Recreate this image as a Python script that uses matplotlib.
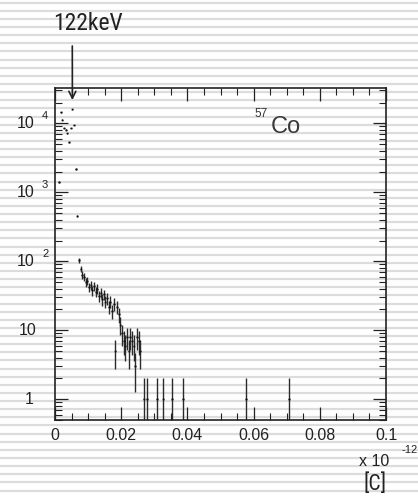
import numpy as np
import matplotlib
matplotlib.use("Agg")
import matplotlib.pyplot as plt
from matplotlib.ticker import MultipleLocator, LogLocator, NullFormatter
from matplotlib import font_manager

# ---------------- data ----------------
bin_half_width = 0.00025
# bin centres [x 10^-12 C] and counts
x_peak = [0.00125, 0.00175, 0.00225, 0.00275, 0.00325, 0.00375, 0.00425,
          0.00475, 0.00525, 0.00575, 0.00625, 0.00675, 0.00725]
n_peak = [1410, 14400, 11300, 8550, 8100, 7160, 5300,
          8550, 15950, 9450, 2180, 454, 103]

x_tail = [0.00775, 0.00825, 0.00875, 0.00925, 0.00975, 0.01025, 0.01075,
          0.01125, 0.01175, 0.01225, 0.01275, 0.01325, 0.01375, 0.01425,
          0.01475, 0.01525, 0.01575, 0.01625, 0.01675, 0.01725, 0.01775,
          0.01825, 0.01875, 0.01925, 0.01975, 0.02025, 0.02075, 0.02125,
          0.02175, 0.02225, 0.02275, 0.02325, 0.02375, 0.02425, 0.02475,
          0.02525, 0.02575]
n_tail = [78, 64, 60, 50, 52, 42, 45,
          38, 44, 36, 40, 31, 35, 28,
          33, 26, 29, 22, 26, 19, 24,
          5, 22, 17, 12, 9, 7, 6,
          8, 5, 8, 7, 6, 3, 8,
          7, 5]

x_single = [0.02675, 0.02775, 0.03075, 0.03275, 0.03525, 0.03875, 0.05775, 0.07075]
n_single = [1, 1, 1, 1, 1, 1, 1, 1]

xtick_vals = [0, 0.02, 0.04, 0.06, 0.08, 0.1]
xtick_text = ["0", "0.02", "0.04", "0.06", "0.08", "0.1"]
ytick_vals = [1, 10, 100, 1000, 10000]
ytick_base = ["1", "10", "10", "10", "10"]
ytick_exp = ["", "", "2", "3", "4"]

peak_label = "122keV"
source_label_mass = "57"
source_label_elem = "Co"
unit_scale = "x 10"
unit_exp = "-12"
unit_label = "[C]"

# pick a narrow font if one is installed
installed = {f.name for f in font_manager.fontManager.ttflist}
narrow = [f for f in ["Liberation Sans Narrow", "Roboto Condensed", "DejaVu Sans Condensed",
                      "Open Sans Condensed", "Noto Sans CJK JP"] if f in installed]
narrow = (narrow[:1] or ["Liberation Sans"])[0]

# ---------------- figure ----------------
W, H = 418, 496
fig = plt.figure(figsize=(W / 100, H / 100), dpi=100)
fig.patch.set_facecolor("white")

# striped background (paper lines)
bg = fig.add_axes([0, 0, 1, 1], zorder=0)
bg.set_xlim(0, W)
bg.set_ylim(H, 0)
bg.axis("off")
stripe_y = np.arange(2.7, H + 8, 8.13)
bg.hlines(stripe_y, 0, W, colors="#dcdcdc", linewidth=1.6)

def fx(px):
    return px / W

def fy(py):
    return 1 - py / H

ax = fig.add_axes([fx(55), fy(420), (386 - 55) / W, (420 - 88) / H], zorder=2)
ax.patch.set_alpha(0)

x_all = x_peak + x_tail + x_single
n_all = np.array(n_peak + n_tail + n_single, dtype=float)
err = np.sqrt(n_all)
err_lo = np.where(n_all - err <= 0, n_all - 1e-6, err)

ax.errorbar(x_all, n_all, xerr=bin_half_width, yerr=[err_lo, err],
            fmt="s", ms=1.2, mfc="#111111", mew=0, ecolor="#2a2a2a",
            elinewidth=1.0, capsize=0)

ax.set_yscale("log")
ax.set_xlim(0, 0.1)
ax.set_ylim(0.5, 3.25e4)

for s in ax.spines.values():
    s.set_linewidth(1.2)
    s.set_color("#222222")

ax.xaxis.set_major_locator(MultipleLocator(0.02))
ax.xaxis.set_minor_locator(MultipleLocator(0.005))
ax.set_xticks(xtick_vals)
ax.set_xticklabels(xtick_text, fontsize=11.5, family="Liberation Sans", color="#222222")
ax.yaxis.set_major_locator(LogLocator(base=10, numticks=10))
ax.yaxis.set_minor_locator(LogLocator(base=10, subs=np.arange(2, 10), numticks=20))
ax.yaxis.set_major_formatter(NullFormatter())
ax.yaxis.set_minor_formatter(NullFormatter())
ax.tick_params(which="both", direction="in", top=True, right=True, color="#222222")
ax.tick_params(which="major", length=9.4, width=0.9, pad=6)
ax.tick_params(which="minor", length=4.8, width=0.8)

# y tick labels (ROOT style)
for v, b, e in zip(ytick_vals, ytick_base, ytick_exp):
    if e:
        ax.annotate(b, xy=(0, v), xycoords=("axes fraction", "data"),
                    xytext=(-20, 0), textcoords="offset pixels",
                    ha="right", va="center", fontsize=11.5,
                    family="Liberation Sans", color="#222222")
        ax.annotate(e, xy=(0, v), xycoords=("axes fraction", "data"),
                    xytext=(-13, 2), textcoords="offset pixels",
                    ha="left", va="bottom", fontsize=8,
                    family="Liberation Sans", color="#222222")
    else:
        off = -21 if b == "1" else -18
        ax.annotate(b, xy=(0, v), xycoords=("axes fraction", "data"),
                    xytext=(off, 0), textcoords="offset pixels",
                    ha="right", va="center", fontsize=11.5,
                    family="Liberation Sans", color="#222222")

# arrow marking 122 keV
ax.annotate("", xy=(0.00525, 2.17e4), xycoords="data",
            xytext=(72.3, H - 46), textcoords="figure pixels",
            arrowprops=dict(arrowstyle="->,head_length=0.5,head_width=0.25",
                            lw=1.2, color="#222222", mutation_scale=10,
                            shrinkA=0, shrinkB=0))
peak_size = 17 if narrow != "Liberation Sans" else 14.5
fig.text(fx(53), fy(30), peak_label, fontsize=peak_size, family=narrow,
         color="#222222", ha="left", va="baseline")

# 57Co
fig.text(fx(254), fy(117), source_label_mass, fontsize=8.5,
         family="Liberation Sans", color="#333333", ha="left", va="baseline")
fig.text(fx(271), fy(133), source_label_elem, fontsize=17,
         family="Liberation Sans", color="#3a3a3a", ha="left", va="baseline")

# axis unit
fig.text(fx(374), fy(466), unit_scale, fontsize=11.5, family="Liberation Sans",
         color="#222222", ha="center", va="baseline")
fig.text(fx(402), fy(453), unit_exp, fontsize=8, family="Liberation Sans",
         color="#222222", ha="left", va="baseline")
fig.text(fx(375), fy(490), unit_label, fontsize=peak_size - 1.5, family=narrow,
         color="#222222", ha="center", va="baseline")

fig.savefig("out.png", dpi=100)
